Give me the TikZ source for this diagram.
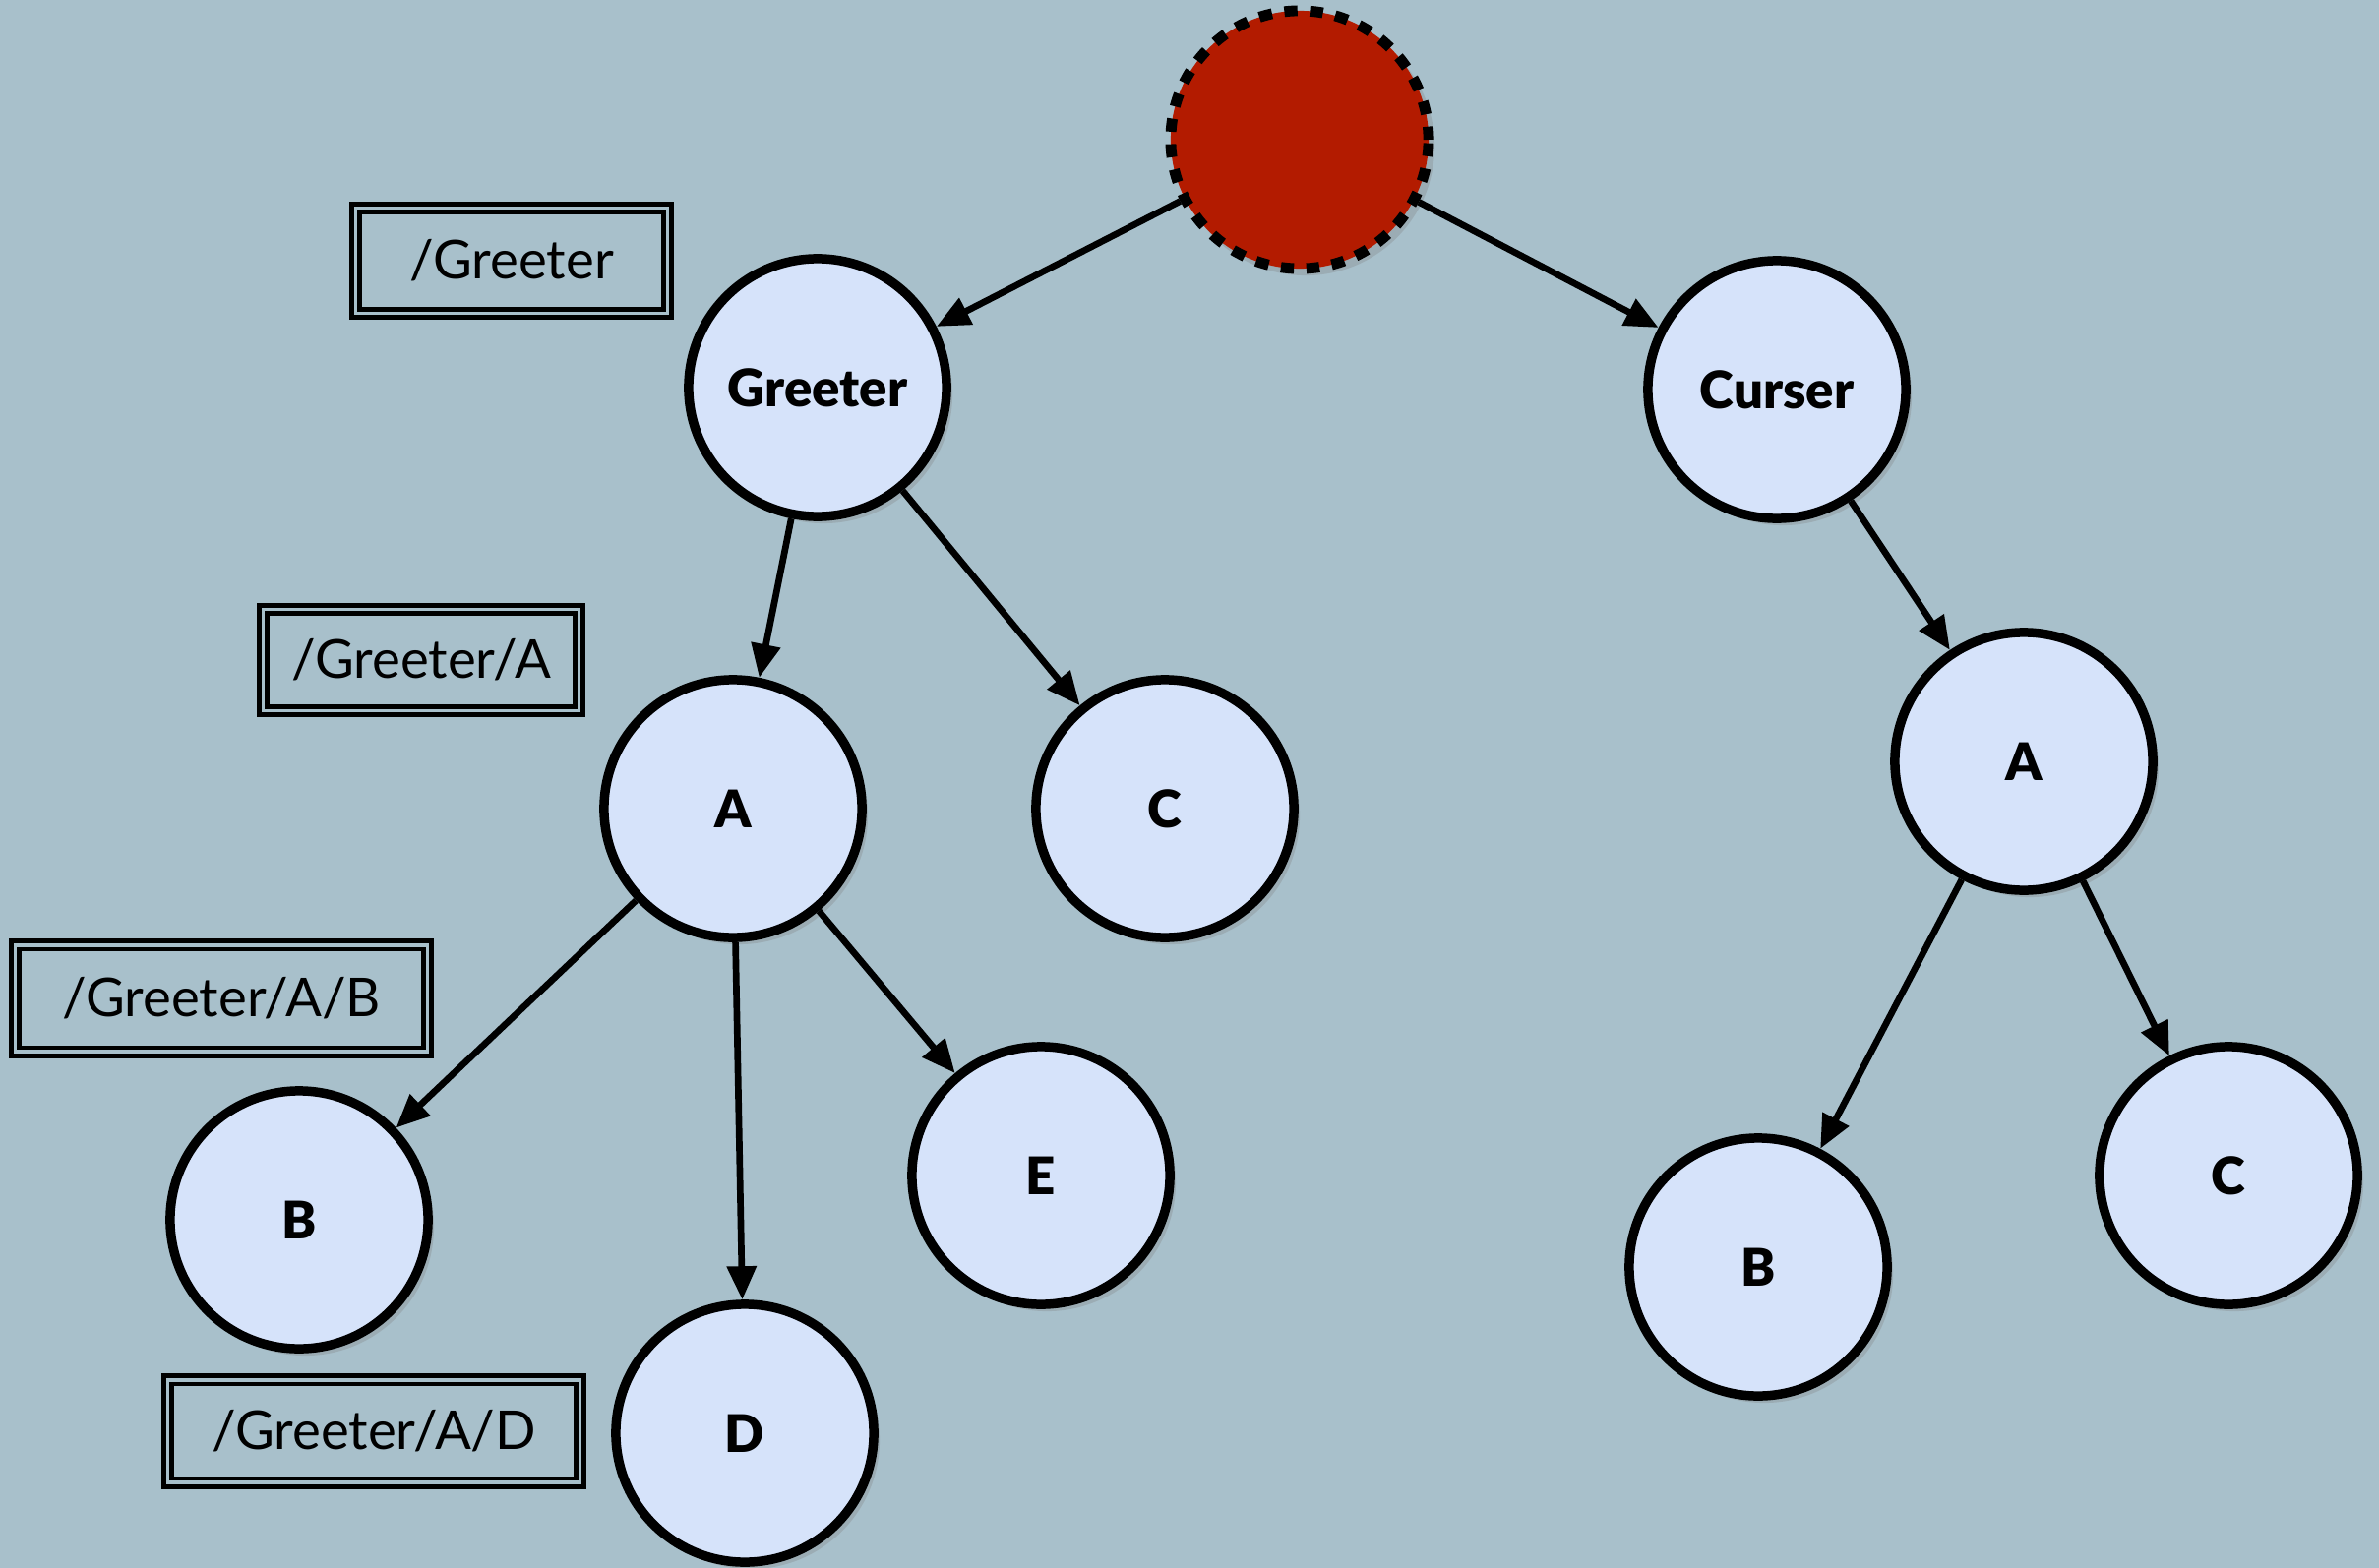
\documentclass[tikz,border=0pt]{standalone}
\usepackage{fontspec}
\setmainfont{Lato}
\newfontfamily\heavyfont{Lato Black}
\usepackage{tikz}
\usetikzlibrary{arrows.meta, positioning, shadows}
\definecolor{bgblue}{HTML}{A8C0CB}
\definecolor{nodeblue}{HTML}{D6E3FA}
\definecolor{rootred}{HTML}{B31B00}

\begin{document}
\begin{tikzpicture}[
    x=0.01cm, y=-0.01cm,
    nd/.style={circle, draw, line width=2.7pt, fill=nodeblue, minimum size=2.62cm, inner sep=0pt, font=\fontsize{15}{15}\selectfont\heavyfont, drop shadow={shadow xshift=0.6mm, shadow yshift=-0.7mm, opacity=0.3}},
    rootnd/.style={nd, fill=rootred, line width=3.1pt, dash pattern=on 3.8pt off 3.6pt},
    pathlbl/.style={draw, line width=1.4pt, double=bgblue, double distance=0.9pt, inner sep=0pt, font=\fontsize{15.5}{15.5}\selectfont},
    arr/.style={-{Triangle[length=3.4mm, width=2.9mm]}, line width=1.9pt}
]
\fill[bgblue] (0,0) rectangle (2418,1594);
\useasboundingbox (0,0) rectangle (2418,1594);

% tree
\node[rootnd] (root) at (1321,142) {};
\node[nd] (greeter) at (831,394) {Greeter};
\node[nd] (curser) at (1806,396) {Curser};
\node[nd] (ga) at (745,822) {A};
\node[nd] (gc) at (1184,822) {C};
\node[nd] (gb) at (304,1240) {B};
\node[nd] (gd) at (757,1457) {D};
\node[nd] (ge) at (1058,1195) {E};
\node[nd] (ca) at (2057,774) {A};
\node[nd] (cb) at (1787,1288) {B};
\node[nd] (cc) at (2265,1195) {C};

\draw[arr] (root) -- (greeter);
\draw[arr] (root) -- (curser);
\draw[arr] (greeter) -- (ga);
\draw[arr] (greeter) -- (gc);
\draw[arr] (ga) -- (gb);
\draw[arr] (ga) -- (gd);
\draw[arr] (ga) -- (ge);
\draw[arr] (curser) -- (ca);
\draw[arr] (ca) -- (cb);
\draw[arr] (ca) -- (cc);

% path labels
\node[pathlbl, minimum width=3.16cm, minimum height=1.07cm] (pg) at (520,265) {/Greeter};
\node[pathlbl, minimum width=3.2cm, minimum height=1.03cm] (pga) at (428,671) {/Greeter/A};
\node[pathlbl, minimum width=4.19cm, minimum height=1.08cm] (pgab) at (225,1015) {/Greeter/A/B};
\node[pathlbl, minimum width=4.19cm, minimum height=1.04cm] (pgad) at (380,1455) {/Greeter/A/D};

\end{tikzpicture}
\end{document}
